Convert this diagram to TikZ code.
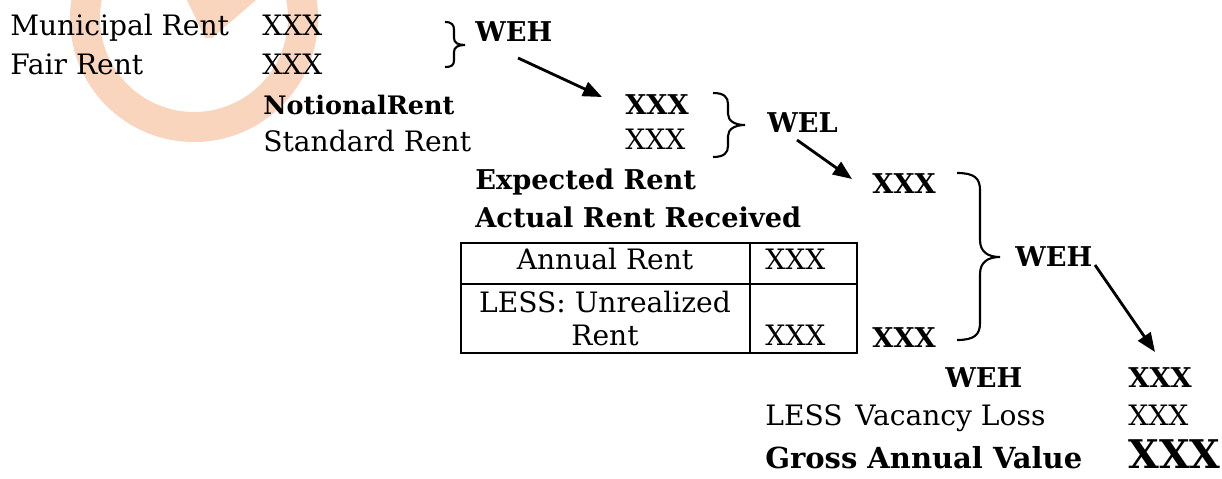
\documentclass[tikz,border=0pt]{standalone}
\usepackage{fontspec}
\setmainfont{DejaVu Serif}
\usetikzlibrary{arrows.meta, positioning}
\definecolor{peach}{HTML}{F9D5BE}

\begin{document}
\begin{tikzpicture}[x=0.02cm, y=-0.02cm]
	\tikzset{txt/.style={anchor=base west, inner sep=0pt, font=\fontsize{16}{18}\selectfont},
		bld/.style={txt, font=\fontsize{15.5}{18}\selectfont\bfseries},
		flow/.style={-{Triangle[length=0.38cm, width=0.3cm]}, line width=1.6pt},
		curly/.style={line width=1.2pt}}
	\useasboundingbox (0,0) rectangle (1222,479);

	% watermark
	\begin{scope}
		\clip (0,0) rectangle (1222,479);
		\fill[peach, even odd rule] (194,18) circle[radius=124] (194,18) circle[radius=94];
		\fill[peach] (187,0) -- (256,0) -- (212,38) -- (205,38) -- cycle;
	\end{scope}

	\node[txt] (mun) at (10,36) {Municipal Rent};
	\node[txt] (munx) at (262,36) {XXX};
	\node[txt] (fair) at (10,75) {Fair Rent};
	\node[txt] (fairx) at (262,75) {XXX};
	\node[bld] (weha) at (475,42) {WEH};

	\node[bld, font=\fontsize{14.5}{16}\selectfont\bfseries] (notional) at (263,115) {NotionalRent};
	\node[bld] (notx) at (625,115) {XXX};
	\node[txt] (std) at (263,152) {Standard Rent};
	\node[txt] (stdx) at (625,150) {XXX};
	\node[bld] (wel) at (767,133) {WEL};

	\node[bld] (exp) at (475,190) {Expected Rent};
	\node[bld] (expx) at (872,194) {XXX};
	\node[bld] (act) at (475,228) {Actual Rent Received};
	\node[bld] (actx) at (872,347) {XXX};
	\node[bld] (wehb) at (1015,267) {WEH};

	% table
	\draw[line width=1pt] (461,243) rectangle (857,353);
	\draw[line width=1pt] (750,243) -- (750,353) (461,284) -- (857,284);
	\node[txt, anchor=base] (ann) at (605,270) {Annual Rent};
	\node[txt] (annx) at (765,270) {XXX};
	\node[txt, anchor=base] (unr) at (605,312) {LESS: Unrealized};
	\node[txt, anchor=base] (unrb) at (605,345) {Rent};
	\node[txt] (unrx) at (765,345) {XXX};

	\node[bld] (wehc) at (945,387) {WEH};
	\node[bld] (netx) at (1128,387) {XXX};
	\node[txt] (less) at (765,425) {LESS};
	\node[txt] (vac) at (855,425) {Vacancy Loss};
	\node[txt] (vacx) at (1128,425) {XXX};
	\node[bld, font=\fontsize{16.5}{18}\selectfont\bfseries] (gav) at (765,468) {Gross Annual Value};
	\node[bld, font=\fontsize{22.5}{24}\selectfont\bfseries] (gavx) at (1128,468) {XXX};

	% braces
	\draw[curly] (445,22) .. controls (452,22) and (454,25) .. (454,30) -- (454,38)
		.. controls (454,43) and (458,45) .. (465,45)
		.. controls (458,45) and (454,47) .. (454,52) -- (454,60)
		.. controls (454,65) and (452,67) .. (445,67);
	\draw[curly] (713,93) .. controls (724,93) and (728,97) .. (728,104) -- (728,114)
		.. controls (728,121) and (735,125) .. (745,125)
		.. controls (735,125) and (728,129) .. (728,136) -- (728,146)
		.. controls (728,153) and (724,157) .. (713,157);
	\draw[curly] (957,173) .. controls (974,173) and (980,178) .. (980,190) -- (980,240)
		.. controls (980,252) and (988,257) .. (1000,257)
		.. controls (988,257) and (980,262) .. (980,274) -- (980,323)
		.. controls (980,335) and (974,340) .. (957,340);

	% arrows
	\draw[flow] ([shift={(43,16)}]weha.base west) -- ([shift={(-23,-18)}]notx.base west);
	\draw[flow] ([shift={(30,7)}]wel.base west) -- ([shift={(-20,-15)}]expx.base west);
	\draw[flow] ([shift={(80,-2)}]wehb.base west) -- ([shift={(27,-35)}]netx.base west);
\end{tikzpicture}
\end{document}
